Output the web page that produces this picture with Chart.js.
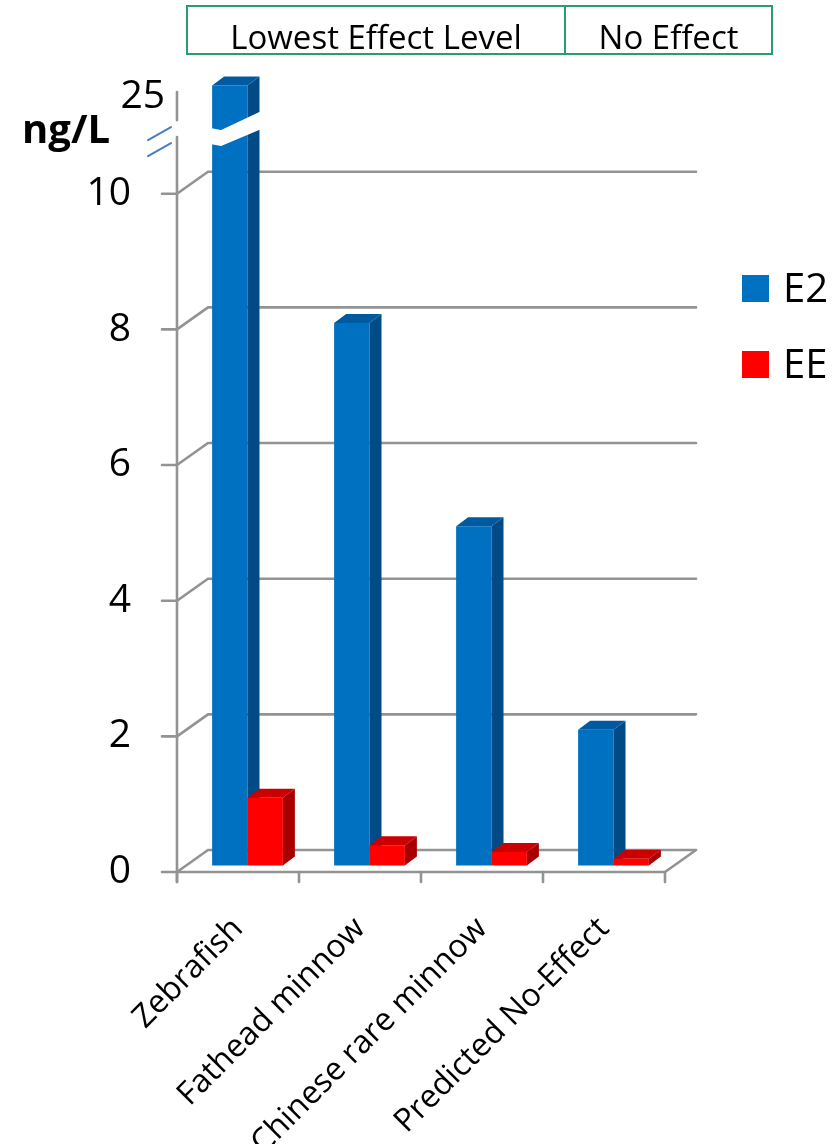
<!DOCTYPE html>
<html>
<head>
<meta charset="utf-8">
<script src="https://cdn.jsdelivr.net/npm/chart.js@4.4.1/dist/chart.umd.min.js"></script>
<style>
  html, body { margin: 0; padding: 0; background: #fff; }
  #wrap { position: relative; width: 837px; height: 1144px; overflow: hidden; }
</style>
</head>
<body>
<div id="wrap"><canvas id="chart" width="837" height="1144"></canvas></div>
<script>
// Data
const categories = ['Zebrafish', 'Fathead minnow', 'Chinese rare minnow', 'Predicted No-Effect'];
const e2Values = [25, 8, 5, 2];
const eeValues = [1, 0.3, 0.2, 0.1];
const yTicks = [0, 2, 4, 6, 8, 10];
const headerGroups = ['Lowest Effect Level', 'No Effect'];
const unitLabel = 'ng/L';

// Look
const fontFamily = "'Open Sans', sans-serif";
const gridColor = '#939393';
const faces = {
    E2: { front: '#0070c0', side: '#004b86', top: '#005a9f' },
    EE: { front: '#ff0000', side: '#a80000', top: '#cc0000' }
};
const wall = { dx: 31, dy: -22 };     // depth of the floor / back wall
const barDepth = { dx: 12, dy: -9 };  // depth of each bar
const barShift = { dx: 9.5, dy: -6.5 }; // bars sit mid-way in the depth
const yTop = 11.5;                    // axis value where the broken top sits
const breakValue = 10.85;             // where the break marks go

Chart.defaults.font.family = fontFamily;
Chart.defaults.color = '#000';

function line(ctx, pts) {
    ctx.beginPath();
    ctx.moveTo(pts[0][0], pts[0][1]);
    for (let i = 1; i < pts.length; i++) ctx.lineTo(pts[i][0], pts[i][1]);
    ctx.stroke();
}

function poly(ctx, pts, fill) {
    ctx.beginPath();
    ctx.moveTo(pts[0][0], pts[0][1]);
    for (let i = 1; i < pts.length; i++) ctx.lineTo(pts[i][0], pts[i][1]);
    ctx.closePath();
    ctx.fillStyle = fill;
    ctx.fill();
}

// 3D walls + bars, drawn in place of the flat bars
const bars3d = {
    id: 'bars3d',
    beforeDatasetsDraw(chart) {
        const { ctx, chartArea: a, scales: { y } } = chart;
        ctx.save();
        ctx.strokeStyle = gridColor;
        ctx.lineWidth = 2.6;
        ctx.lineCap = 'round';

        // gridlines on the back wall, joined to the front ticks
        yTicks.forEach(v => {
            const py = y.getPixelForValue(v);
            line(ctx, [[a.left - 15, py], [a.left, py], [a.left + wall.dx, py + wall.dy], [a.right + wall.dx, py + wall.dy]]);
        });
        // floor
        line(ctx, [[a.left, a.bottom], [a.right, a.bottom], [a.right + wall.dx, a.bottom + wall.dy]]);
        const n = categories.length;
        for (let i = 0; i <= n; i++) {
            const px = a.left + i * a.width / n;
            line(ctx, [[px, a.bottom], [px, a.bottom + 10]]);
        }
        // value axis with a gap for the break
        const gy = y.getPixelForValue(breakValue) - 8;
        line(ctx, [[a.left, a.top], [a.left, gy - 8]]);
        line(ctx, [[a.left, gy + 9], [a.left, a.bottom + 10]]);
        ctx.strokeStyle = '#4a7cc4';
        ctx.lineWidth = 2;
        line(ctx, [[a.left - 29, gy + 12], [a.left - 6, gy - 1]]);
        line(ctx, [[a.left - 29, gy + 28], [a.left - 6, gy + 15]]);

        // bars, category by category so the depth overlaps right
        for (let j = 0; j < n; j++) {
            chart.data.datasets.forEach((ds, i) => {
                const el = chart.getDatasetMeta(i).data[j];
                const p = el.getProps(['x', 'y', 'base', 'width'], true);
                const f = faces[ds.label];
                const L = p.x - p.width / 2 + barShift.dx;
                const R = p.x + p.width / 2 + barShift.dx;
                const T = Math.max(p.y, a.top) + barShift.dy;
                const B = p.base + barShift.dy;
                const dx = barDepth.dx, dy = barDepth.dy;
                poly(ctx, [[L, B], [L, T], [R, T], [R, B]], f.front);
                poly(ctx, [[R, T], [R + dx, T + dy], [R + dx, B + dy], [R, B]], f.side);
                poly(ctx, [[L, T], [L + dx, T + dy], [R + dx, T + dy], [R, T]], f.top);
                // broken bar: white band across it
                if (ds.data[j] > yTop) {
                    const c = y.getPixelForValue(breakValue);
                    poly(ctx, [[L - 2, c - 8], [L + 9, c - 6], [R + dx + 2, c - 25],
                               [R + dx + 2, c - 7], [L + 9, c + 10], [L - 2, c + 8]], '#fff');
                }
            });
        }
        ctx.restore();
        return false;
    },
    afterDraw(chart) {
        const { ctx } = chart;
        ctx.save();
        ctx.fillStyle = '#000';
        ctx.textBaseline = 'alphabetic';

        // top label of the broken axis
        ctx.font = '39px ' + fontFamily;
        ctx.textAlign = 'right';
        ctx.fillText(String(Math.max(...e2Values)), 165, 108);

        // unit
        ctx.font = 'bold 40px ' + fontFamily;
        ctx.textAlign = 'left';
        ctx.fillText(unitLabel, 22, 143);

        // header boxes
        const boxes = [[187, 378], [565, 207]];
        ctx.strokeStyle = '#2a9d6f';
        ctx.lineWidth = 2;
        ctx.font = '33px ' + fontFamily;
        ctx.textAlign = 'center';
        headerGroups.forEach((t, i) => {
            const [bx, bw] = boxes[i];
            ctx.strokeRect(bx, 6, bw, 48);
            ctx.fillText(t, bx + bw / 2, 49);
        });

        // legend
        ctx.font = '40px ' + fontFamily;
        ctx.textAlign = 'left';
        chart.data.datasets.forEach((ds, i) => {
            const ly = 275 + i * 76;
            ctx.fillStyle = faces[ds.label].front;
            ctx.fillRect(742, ly, 27, 27);
            ctx.fillStyle = '#000';
            ctx.fillText(ds.label, 783, ly + 27);
        });
        ctx.restore();
    }
};

new Chart(document.getElementById('chart'), {
    type: 'bar',
    data: {
        labels: categories,
        datasets: [
            { label: 'E2', data: e2Values, backgroundColor: faces.E2.front },
            { label: 'EE', data: eeValues, backgroundColor: faces.EE.front }
        ]
    },
    options: {
        responsive: false,
        animation: false,
        devicePixelRatio: 1,
        layout: { padding: { top: 92, right: 172, left: 0, bottom: 0 } },
        datasets: { bar: { categoryPercentage: 0.58, barPercentage: 1 } },
        plugins: { legend: { display: false }, tooltip: { enabled: false } },
        scales: {
            x: {
                grid: { display: false, drawTicks: false },
                border: { display: false },
                ticks: { font: { size: 32 }, minRotation: 45, maxRotation: 45, padding: 38, autoSkip: false },
                afterFit: s => { s.height = 272; }
            },
            y: {
                min: 0,
                max: yTop,
                grid: { display: false, drawTicks: false },
                border: { display: false },
                ticks: { font: { size: 39 }, padding: 46 },
                afterBuildTicks: s => { s.ticks = yTicks.map(v => ({ value: v })); },
                afterFit: s => { s.width = 177; }
            }
        }
    },
    plugins: [bars3d]
});
</script>
</body>
</html>
